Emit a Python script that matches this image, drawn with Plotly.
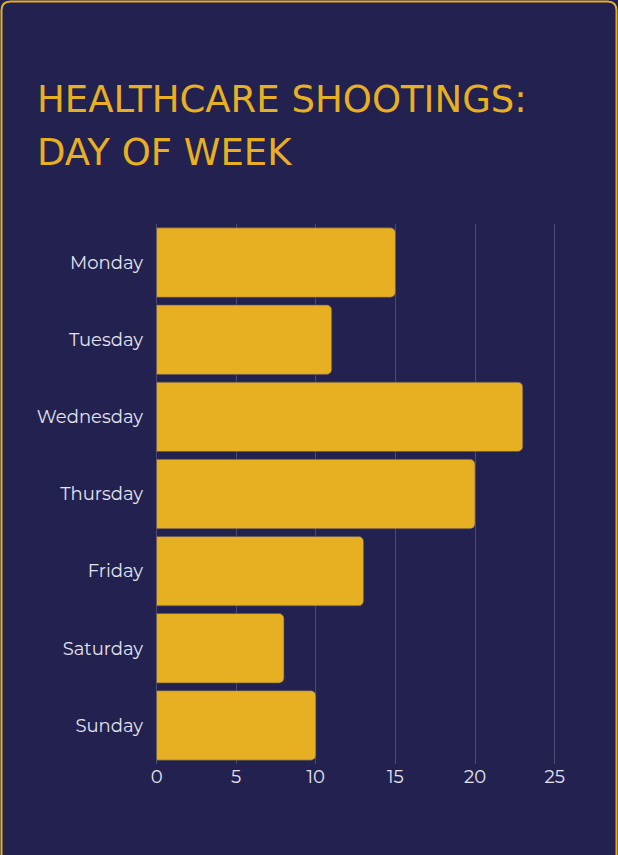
import plotly.graph_objects as go

days = ["Monday", "Tuesday", "Wednesday", "Thursday", "Friday", "Saturday", "Sunday"]
counts = [15, 11, 23, 20, 13, 8, 10]
x_ticks = [0, 5, 10, 15, 20, 25]
title_lines = ["HEALTHCARE SHOOTINGS:", "DAY OF WEEK"]

W, H = 618, 855
ML, MR, MT, MB = 155, 57, 224, 91
PW, PH = W - ML - MR, H - MT - MB

def px(x):
    return (x - ML) / PW

def py(y):
    return (H - MB - y) / PH

BG = "#23214f"
GOLD = "#e6b022"

fig = go.Figure(go.Bar(
    y=days, x=counts, orientation="h",
    marker=dict(color=GOLD, line=dict(color="#5a5060", width=0.6), cornerradius=5),
))

# rounded border
x0, x1, y0, y1, r = 1.5, W - 1.5, 1.5, H + 10, 9
path = (f"M {px(x0 + r)} {py(y0)} L {px(x1 - r)} {py(y0)} "
        f"Q {px(x1)} {py(y0)} {px(x1)} {py(y0 + r)} "
        f"L {px(x1)} {py(y1)} L {px(x0)} {py(y1)} L {px(x0)} {py(y0 + r)} "
        f"Q {px(x0)} {py(y0)} {px(x0 + r)} {py(y0)} Z")
fig.add_shape(type="path", path=path, xref="paper", yref="paper",
              line=dict(color=GOLD, width=2), layer="below")

for txt, yc in zip(title_lines, [99, 153]):
    fig.add_annotation(text=txt, xref="paper", yref="paper", x=px(35), y=py(yc),
                       xanchor="left", yanchor="middle", showarrow=False,
                       font=dict(family="DejaVu Sans", size=37, color=GOLD))

fig.update_layout(
    width=W, height=H,
    margin=dict(l=ML, r=MR, t=MT, b=MB),
    paper_bgcolor=BG, plot_bgcolor=BG,
    showlegend=False,
    bargap=0.1,
    xaxis=dict(range=[-0.1, 25.4], tickvals=x_ticks, showgrid=True, gridcolor="#4a4a72", gridwidth=1,
               zeroline=False, showline=False, ticks="",
               tickfont=dict(family="Montserrat, Open Sans", size=18, color="#e4e4ee")),
    yaxis=dict(autorange="reversed", showgrid=False, ticks="", ticklabelstandoff=11,
               tickfont=dict(family="Montserrat, Open Sans", size=18, color="#e4e4ee")),
)
fig.write_html("out.html", config={"displayModeBar": False},
               post_script="document.body.style.margin='0';document.body.style.overflow='hidden';")
